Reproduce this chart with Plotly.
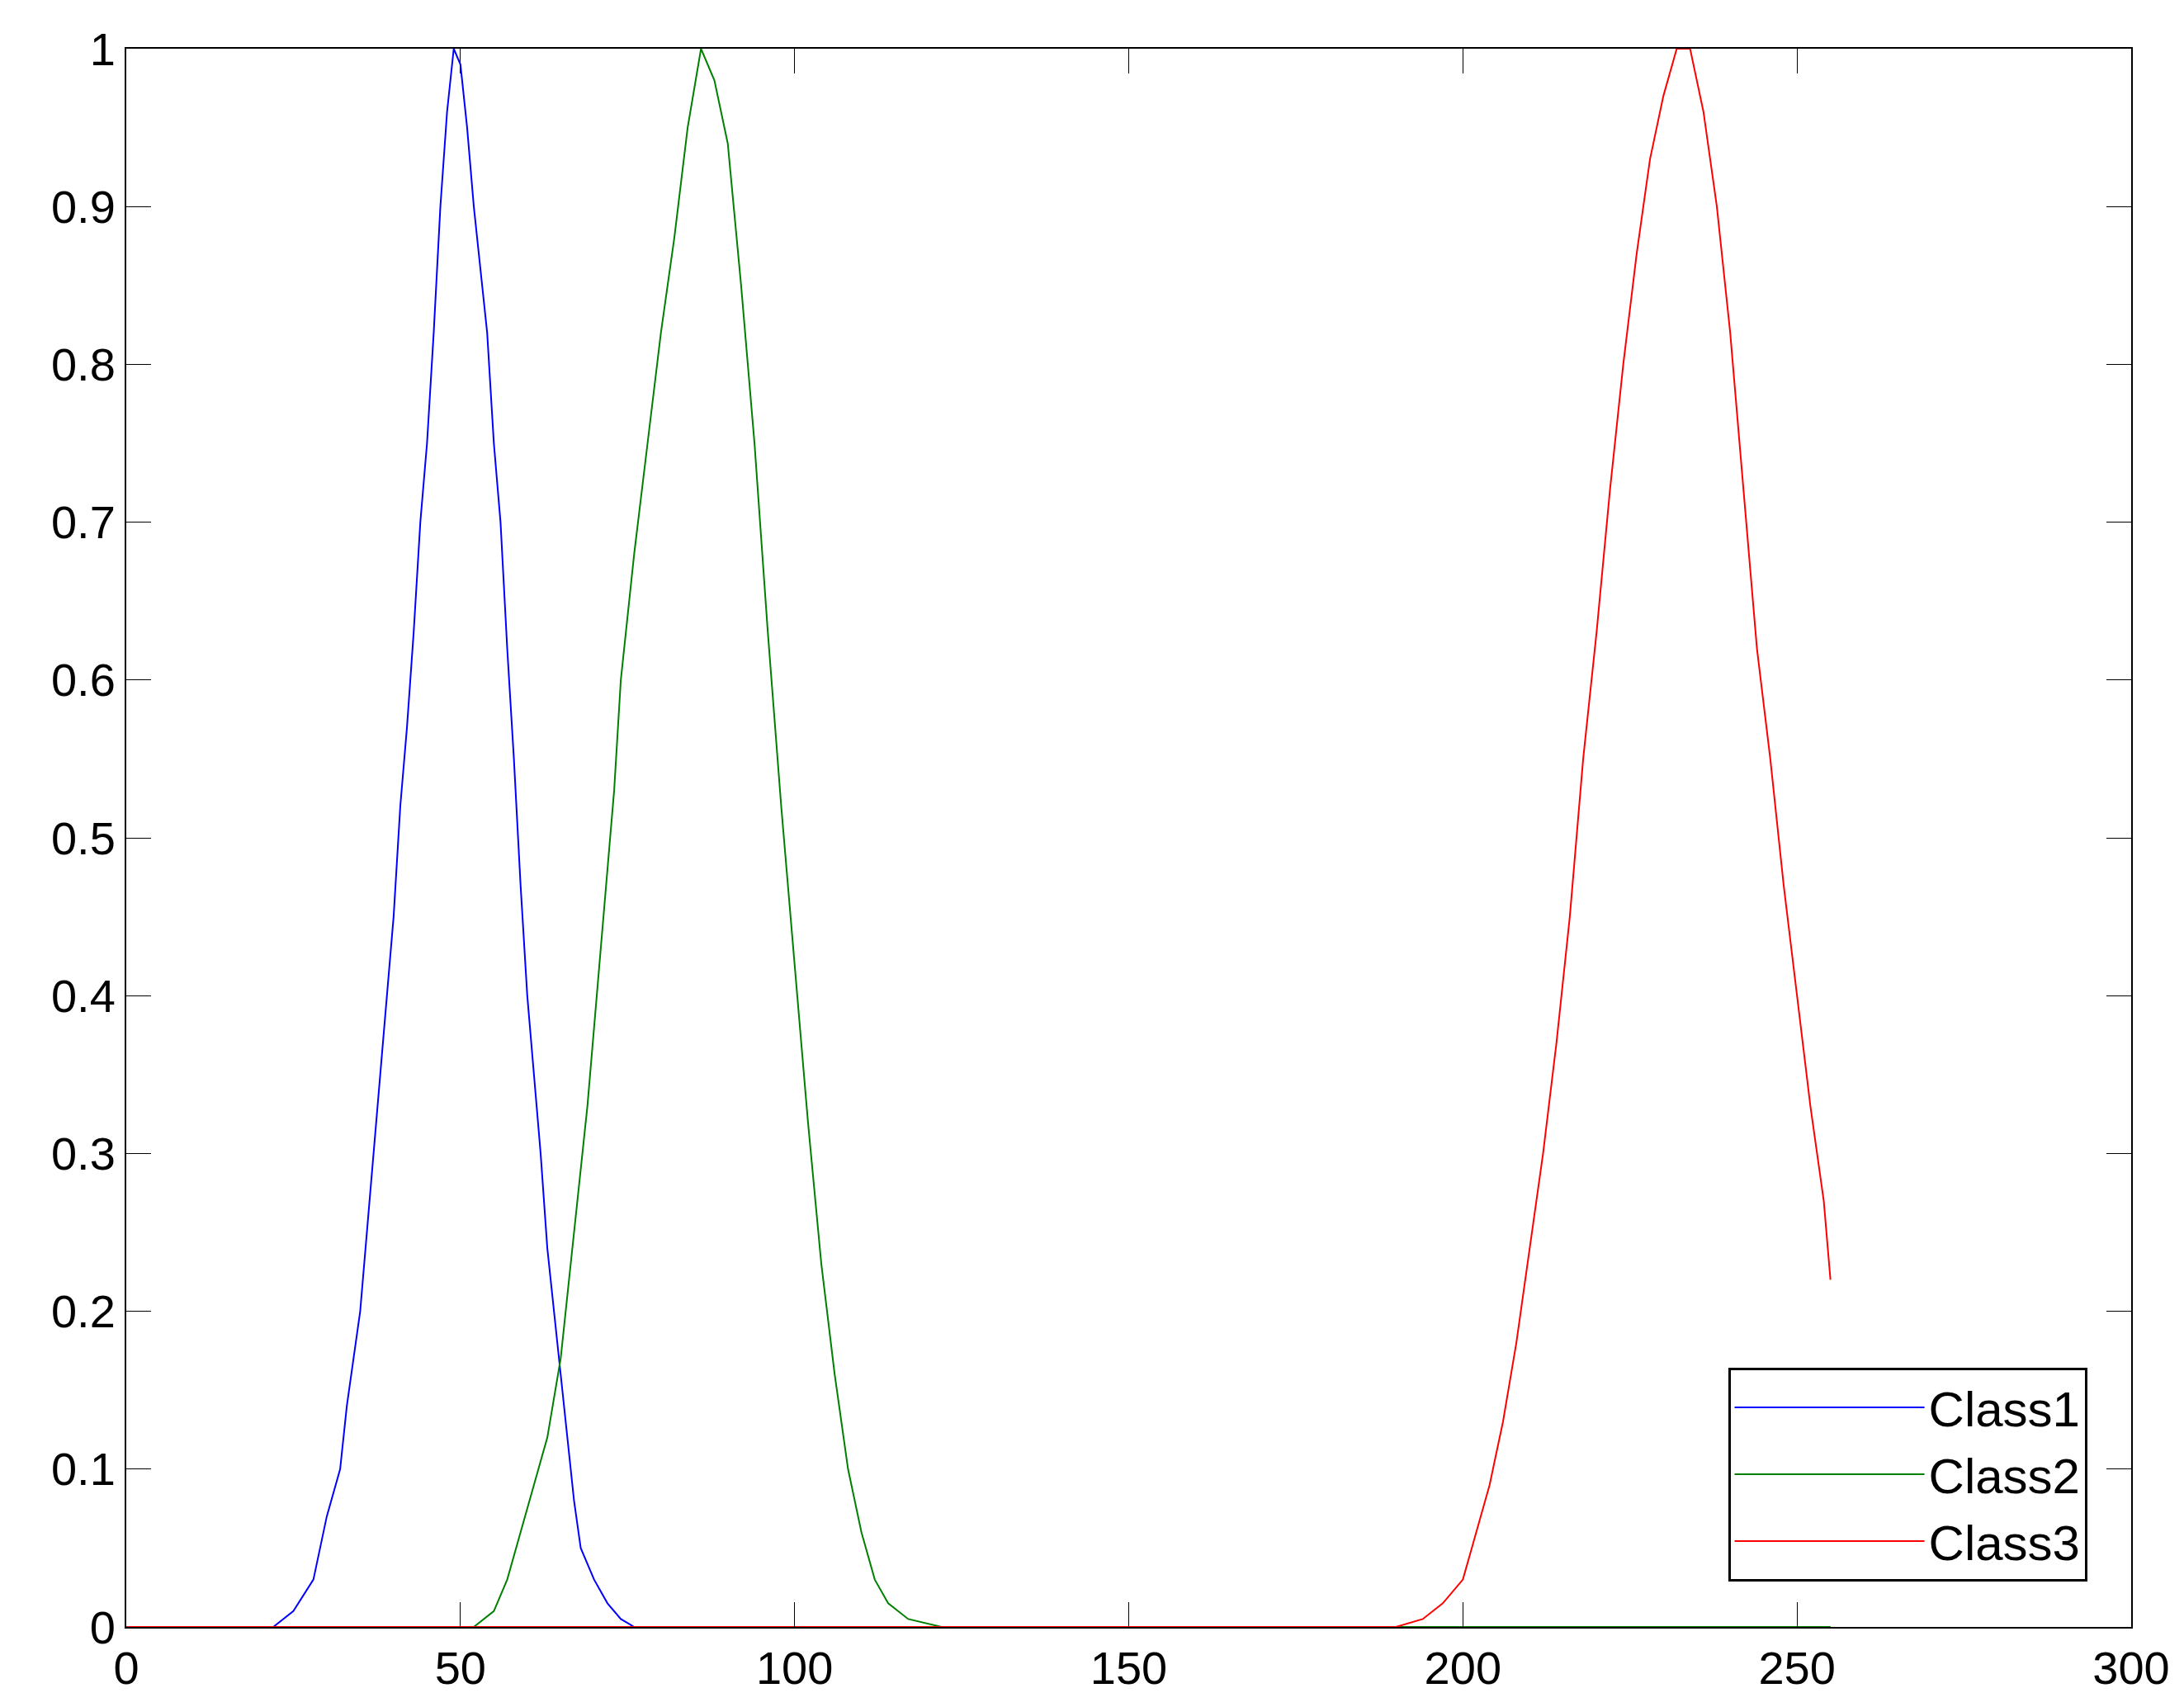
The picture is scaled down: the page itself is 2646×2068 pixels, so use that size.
import plotly.graph_objects as go

class1_x = [0, 22, 25, 28, 30, 32, 33, 35, 37, 39, 40, 41, 42, 43, 44, 45, 46, 47, 48, 49, 50, 51, 52, 54, 55, 56, 57, 58, 59, 60,
            61, 62, 63, 64, 65, 66, 67, 68, 70, 72, 74, 76, 255]
class1_y = [0, 0, 0.01, 0.03, 0.07, 0.1, 0.14, 0.2, 0.3, 0.4, 0.45, 0.52, 0.57, 0.63, 0.7, 0.75, 0.82, 0.9, 0.96, 1.0, 0.99, 0.95,
            0.9, 0.82, 0.75, 0.7, 0.62, 0.55, 0.47, 0.4, 0.35, 0.3, 0.24, 0.2, 0.16, 0.12, 0.08, 0.05, 0.03, 0.015, 0.005, 0, 0]

class2_x = [0, 52, 55, 57, 59, 61, 63, 65, 67, 69, 71, 73, 74, 76, 78, 80, 82, 84, 86, 88, 90, 92, 94, 96, 98, 100,
            102, 104, 106, 108, 110, 112, 114, 117, 122, 255]
class2_y = [0, 0, 0.01, 0.03, 0.06, 0.09, 0.12, 0.17, 0.25, 0.33, 0.43, 0.53, 0.6, 0.68, 0.75, 0.82, 0.88, 0.95, 1.0, 0.98,
            0.94, 0.85, 0.75, 0.63, 0.52, 0.42, 0.32, 0.23, 0.16, 0.1, 0.06, 0.03, 0.015, 0.005, 0, 0]

class3_x = [0, 190, 194, 197, 200, 202, 204, 206, 208, 210, 212, 214, 216, 218, 220, 222, 224, 226, 228, 230, 232, 234,
            236, 238, 240, 242, 244, 246, 248, 250, 252, 254, 255]
class3_y = [0, 0, 0.005, 0.015, 0.03, 0.06, 0.09, 0.13, 0.18, 0.24, 0.3, 0.37, 0.45, 0.55, 0.63, 0.72, 0.8, 0.87, 0.93,
            0.97, 1.0, 1.0, 0.96, 0.9, 0.82, 0.72, 0.62, 0.55, 0.47, 0.4, 0.33, 0.27, 0.22]

y_ticks = [0, 0.1, 0.2, 0.3, 0.4, 0.5, 0.6, 0.7, 0.8, 0.9, 1]
y_labels = ["0", "0.1", "0.2", "0.3", "0.4", "0.5", "0.6", "0.7", "0.8", "0.9", "1"]

fig = go.Figure()

for name, xs, ys, color in [
    ("Class1", class1_x, class1_y, "#0000ff"),
    ("Class2", class2_x, class2_y, "#008000"),
    ("Class3", class3_x, class3_y, "#ff0000"),
]:
    fig.add_trace(go.Scatter(x=xs, y=ys, mode="lines", name=name,
                             line=dict(color=color, width=2)))

fig.update_layout(
    width=2646,
    height=2068,
    paper_bgcolor="white",
    plot_bgcolor="white",
    font=dict(family="Liberation Sans, Arial", size=56, color="black"),
    margin=dict(l=145, r=72, t=51, b=105),
    legend=dict(
        x=0.978, y=0.029, xanchor="right", yanchor="bottom",
        bordercolor="black", borderwidth=3, bgcolor="white",
        font=dict(size=60), tracegroupgap=0, itemwidth=230,
    ),
)

axis_style = dict(
    showgrid=False, zeroline=False, showline=True, linecolor="black", linewidth=2,
    mirror="ticks", ticks="inside", ticklen=30, tickcolor="black",
)
fig.update_xaxes(range=[0, 300], dtick=50, **axis_style)
fig.update_yaxes(range=[0, 1], tickvals=y_ticks, ticktext=y_labels, **axis_style)

fig.write_html("out.html")
